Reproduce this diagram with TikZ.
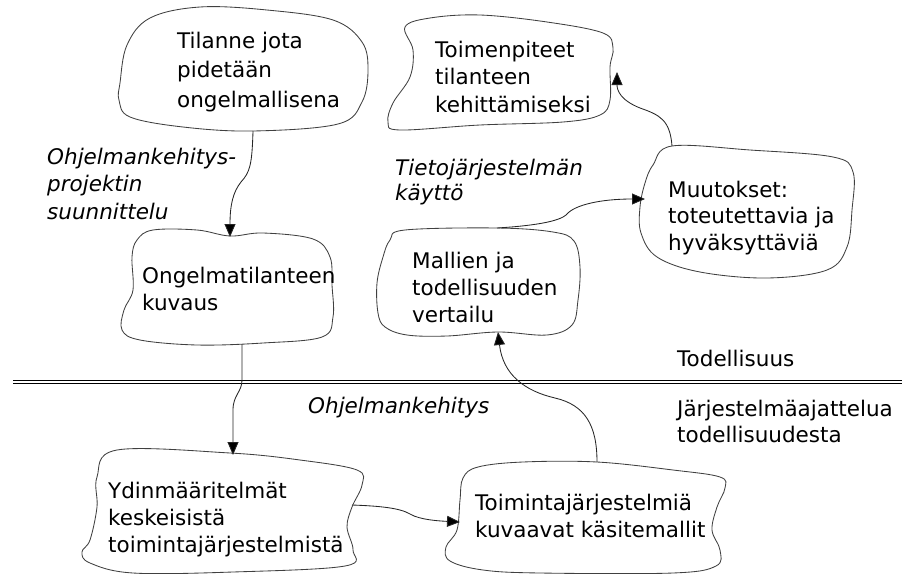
\documentclass[tikz,border=0pt]{standalone}
\usepackage{fontspec}
\setmainfont{DejaVu Sans}
\usetikzlibrary{arrows.meta}
\begin{document}
\begin{tikzpicture}[x=1pt,y=-1pt,
  txt/.style={anchor=base west, inner sep=0pt, align=left, text=black},
  fs/.style={font=\fontsize{21.5}{#1}\selectfont},
  ifs/.style={font=\fontsize{21.5}{#1}\selectfont\itshape},
  blob/.style={draw=black!75, line width=0.85pt},
  conn/.style={draw=black!85, line width=0.85pt, -{Triangle[length=13pt,width=11pt,fill=black]}},
  sep/.style={draw=black, line width=1.1pt}
]
\useasboundingbox (0,0) rectangle (902,573);

% ---- blobs ----
\draw[blob] plot[smooth cycle, tension=0.6] coordinates {(120,83) (127,45) (150,18) (200,7) (267,10) (333,20) (362,42) (368,70) (362,102) (338,124) (253,131) (183,127) (130,117) (119,100)};
\draw[blob] plot[smooth cycle, tension=0.6] coordinates {(405,27) (413,50) (410,77) (393,103) (388,122) (400,130) (480,125) (563,122) (600,115) (610,100) (610,67) (613,48) (603,33) (547,22) (480,15) (430,18)};
\draw[blob] plot[smooth cycle, tension=0.6] coordinates {(645,183) (653,165) (672,146) (750,150) (833,157) (853,172) (852,210) (847,247) (827,270) (767,278) (700,272) (657,257) (641,233) (640,207)};
\draw[blob] plot[smooth cycle, tension=0.6] coordinates {(132,257) (137,240) (153,230) (197,230) (230,236) (263,233) (313,239) (330,257) (332,285) (333,317) (322,337) (263,343) (197,345) (140,340) (122,330) (124,310) (133,290)};
\draw[blob] plot[smooth cycle, tension=0.6] coordinates {(390,240) (405,230) (497,228) (553,232) (574,241) (580,267) (578,300) (572,325) (547,335) (498,332) (447,336) (407,335) (385,327) (378,313) (377,283) (383,257)};
\draw[blob] plot[smooth cycle, tension=0.6] coordinates {(97,477) (117,450) (230,453) (300,460) (357,470) (362,485) (352,507) (347,527) (353,550) (345,566) (233,572) (133,573) (90,563) (82,552) (90,540) (97,507)};
\draw[blob] plot[smooth cycle, tension=0.6] coordinates {(460,500) (463,478) (478,467) (523,462) (597,462) (673,470) (720,477) (725,488) (717,507) (712,530) (720,550) (716,566) (673,573) (540,573) (483,570) (450,561) (446,547) (457,530)};

% ---- box texts (anchor = baseline of last line) ----
\node[txt, fs=29.5] (A) at (177,107) {Tilanne jota\\pidetään\\ongelmallisena};
\node[txt, fs=27.5] (B) at (435,112) {Toimenpiteet\\tilanteen\\kehittämiseksi};
\node[txt, fs=26.5] (C) at (668,250) {Muutokset:\\toteutettavia ja\\hyväksyttäviä};
\node[txt, fs=27] (D) at (142,310) {Ongelmatilanteen\\kuvaus};
\node[txt, fs=27] (E) at (412,322) {Mallien ja\\todellisuuden\\vertailu};
\node[txt, fs=27] (F) at (108,552) {Ydinmääritelmät\\keskeisistä\\toimintajärjestelmistä};
\node[txt, fs=27] (G) at (475,537) {Toimintajärjestelmiä\\kuvaavat käsitemallit};

% ---- free labels ----
\node[txt, ifs=27.5] (L1) at (47,219) {Ohjelmankehitys-\\projektin\\suunnittelu};
\node[txt, ifs=25] (L2) at (395,200) {Tietojärjestelmän\\käyttö};
\node[txt, ifs=26] (L3) at (308,413) {Ohjelmankehitys};
\node[txt, fs=26] (L4) at (677,366) {Todellisuus};
\node[txt, fs=26] (L5) at (677,442) {Järjestelmäajattelua\\todellisuudesta};

% ---- separator ----
\draw[sep] (13,380.5) -- (902,380.5);
\draw[sep] (13,383.8) -- (902,383.8);

% ---- connectors ----
\draw[conn] ([shift={(76,24)}]A.base west) .. controls (252,165) and (250,172) .. (241,182)
  .. controls (233,192) and (230,205) .. ([shift={(88,-73)}]D.base west);
\draw[conn] ([shift={(100,34)}]D.base west) -- (242,380) .. controls (242,392) and (233,395) .. (233,410)
  -- ([shift={(125,-97)}]F.base west);
\draw[conn] ([shift={(244,-47)}]F.base west) .. controls (380,506) and (400,508) .. (410,514)
  .. controls (420,520) and (440,521) .. ([shift={(-15,-15)}]G.base west);
\draw[conn] ([shift={(122,-75)}]G.base west) .. controls (597,425) and (585,405) .. (555,398)
  .. controls (525,391) and (503,375) .. ([shift={(86,10)}]E.base west);
\draw[conn] ([shift={(85,-94)}]E.base west) .. controls (530,226) and (560,222) .. (567,214)
  .. controls (575,205) and (600,199) .. ([shift={(-23,-51)}]C.base west);
\draw[conn] ([shift={(4,-104)}]C.base west) .. controls (670,120) and (660,115) .. (640,108)
  .. controls (620,100) and (617,90) .. ([shift={(182,-40)}]B.base west);
\end{tikzpicture}
\end{document}
